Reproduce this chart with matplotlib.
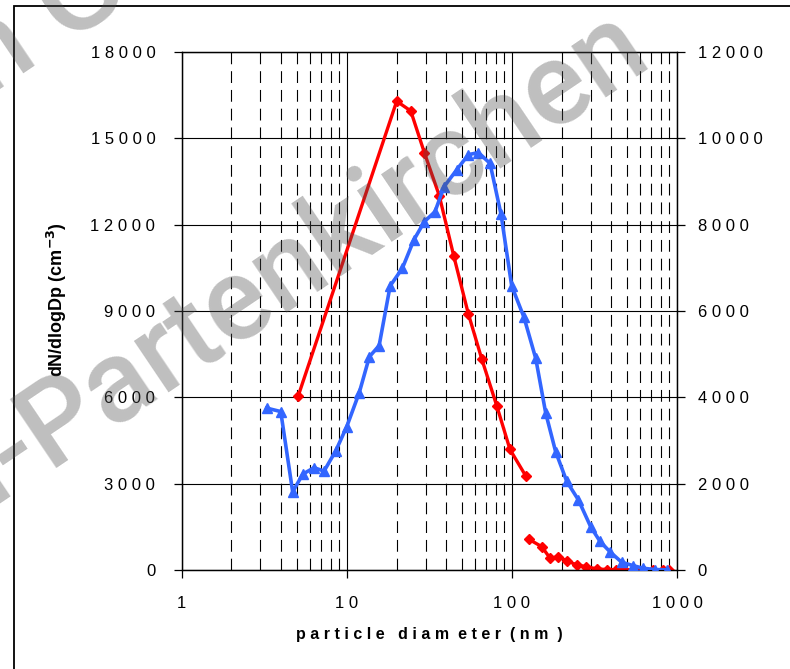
import matplotlib
matplotlib.use("Agg")
import matplotlib.pyplot as plt
from matplotlib.patches import Rectangle

plt.rcParams['font.family'] = ['Liberation Sans', 'DejaVu Sans']
plt.rcParams['lines.scale_dashes'] = False

# Fine-mode size distribution (left axis)
red_fine_dp = [5.08, 20.05, 24.4, 29.5, 36.3, 44.4, 54.4, 65.6, 80.9, 97.3, 121.2]
red_fine_dn = [6050, 16290, 15950, 14500, 13010, 10920, 8910, 7340, 5710, 4190, 3270]

# Coarse-mode size distribution (left axis)
red_coarse_dp = [127.4, 151.6, 170.2, 191, 216.6, 246.9, 281, 326, 375, 427,
                 478, 549, 625, 718, 819, 898]
red_coarse_dn = [1060, 810, 410, 460, 315, 175, 115, 40, 15, 10, 8, 6, 5, 4, 3, 2]

# Second distribution (right axis)
blue_dp = [3.27, 3.98, 4.70, 5.41, 6.33, 7.28, 8.57, 9.99, 11.9, 13.7, 15.7, 18.3,
           21.7, 25.5, 29.5, 34.2, 38.8, 46.3, 54.4, 62.6, 73.7, 85.9, 99.7, 118.4,
           139.4, 160.3, 184, 215, 253, 300, 342, 393, 462, 543, 625, 736, 873]
blue_dn = [3750, 3670, 1810, 2220, 2370, 2290, 2760, 3320, 4110, 4940, 5200, 6580,
           6990, 7650, 8070, 8300, 8880, 9270, 9620, 9670, 9420, 8240, 6580, 5850,
           4900, 3630, 2740, 2050, 1620, 1000, 660, 420, 180, 100, 40, 10, 5]

x_ticks = [1, 10, 100, 1000]
x_ticklabels = ['1', '1 0', '1 0 0', '1 0 0 0']
left_ticks = [0, 3000, 6000, 9000, 12000, 15000, 18000]
left_ticklabels = ['0', '3 0 0 0', '6 0 0 0', '9 0 0 0', '1 2 0 0 0', '1 5 0 0 0', '1 8 0 0 0']
right_ticks = [0, 2000, 4000, 6000, 8000, 10000, 12000]
right_ticklabels = ['0', '2 0 0 0', '4 0 0 0', '6 0 0 0', '8 0 0 0', '1 0 0 0 0', '1 2 0 0 0']

W, H = 790, 669
fig = plt.figure(figsize=(W / 100, H / 100), dpi=100)
ax = fig.add_axes([0.2300, 0.148, 0.627, 0.7743])
ax.set_xscale('log')
ax.set_xlim(1, 1000)
ax.set_ylim(0, 18000)

ax.set_xticks(x_ticks)
ax.set_xticklabels(x_ticklabels)
ax.set_yticks(left_ticks)
ax.set_yticklabels(left_ticklabels)
ax.tick_params(axis='x', which='major', direction='out', length=6, width=0.9,
               pad=13, labelsize=12)
ax.tick_params(axis='x', which='minor', length=0)
ax.tick_params(axis='y', direction='out', length=6, width=0.9, pad=13, labelsize=12)

ax.grid(which='major', axis='both', color='black', lw=0.8, ls='-')
ax.grid(which='minor', axis='x', color='black', lw=0.8, ls=(0, (8.5, 5)))
ax.set_axisbelow(True)
for s in ax.spines.values():
    s.set_linewidth(0.9)

ax.plot(red_fine_dp, red_fine_dn, color='#FF0000', lw=2.4, marker='D', ms=5,
        zorder=3)
ax.plot(red_coarse_dp, red_coarse_dn, color='#FF0000', lw=2.4, marker='D', ms=5,
        zorder=3)

ax2 = ax.twinx()
ax2.set_ylim(0, 12000)
ax2.set_yticks(right_ticks)
ax2.set_yticklabels(right_ticklabels)
ax2.tick_params(axis='y', direction='out', length=6, width=0.9, pad=9, labelsize=12)
for s in ax2.spines.values():
    s.set_linewidth(0.9)
ax2.plot(blue_dp, blue_dn, color='#3366FF', lw=2.6, marker='^', ms=7.5, zorder=3)

ax.set_xlabel('p a r t i c l e   d i a m  e t e r  ( n m  )', fontweight='bold',
              fontsize=11.5, labelpad=11)
ax.set_ylabel(r'dN/dlogDp (cm$^{\mathbf{-3}}$)', fontweight='bold', fontsize=13)
ax.yaxis.set_label_coords(-0.2275, 0.523)

# watermark text, two diagonal lines
wm = dict(fontsize=84, fontweight='medium', rotation=34, rotation_mode='anchor',
          va='baseline', color=(0.3, 0.3, 0.3), alpha=0.36, zorder=10,
          family=['Roboto', 'Liberation Sans', 'DejaVu Sans'])


def fxy(px, py):
    return px / W, 1 - py / H


fig.text(*fxy(48, 468), 'Partenkirchen', ha='left', **wm)
fig.text(*fxy(48, 468), 'Garmisch-', ha='right', **wm)
fig.text(*fxy(40, 58), 'Garmisch-Partenkirchen', ha='right', **wm)
fig.text(*fxy(64, 42), 'Garmisch-Partenkirchen', ha='left', **wm)

# frame around the chart area
fig.patches.append(Rectangle((14 / W, -0.1), 1.2, 1 - 6 / H + 0.1,
                             transform=fig.transFigure, fill=False, lw=1.3,
                             ec='black'))

fig.savefig('out.png', dpi=100)
